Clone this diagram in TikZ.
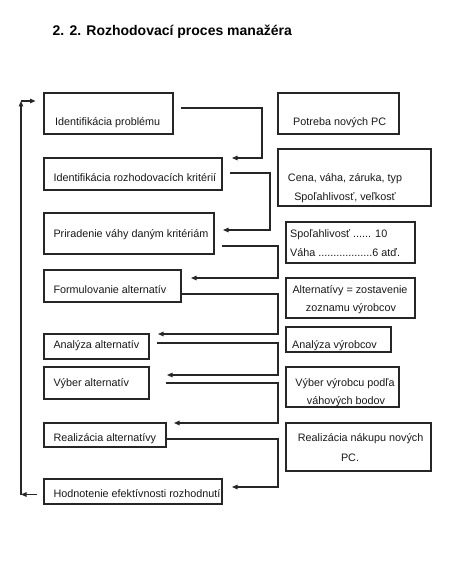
\documentclass[tikz,border=0pt]{standalone}
\usepackage{fontspec}
\setmainfont{Liberation Sans}
\usetikzlibrary{arrows.meta}
\begin{document}
\begin{tikzpicture}[x=1pt,y=-1pt,
  box/.style={draw=black!85,line width=1.1pt,inner sep=0pt,outer sep=0pt,anchor=north west},
  lbl/.style={inner sep=0pt,anchor=base west,font=\fontsize{10.8}{13}\selectfont,text=black!90},
  clbl/.style={inner sep=0pt,anchor=base,font=\fontsize{10.8}{13}\selectfont,text=black!90},
  conn/.style={draw=black!85,line width=1.1pt,-{Triangle[length=5.5pt,width=4.5pt]}},
  ttl/.style={inner sep=0pt,anchor=base west,font=\bfseries\fontsize{14}{16}\selectfont}]
\useasboundingbox (0,0) rectangle (474,564);
\fill[white] (0,0) rectangle (474,564);
% title
\node[ttl] (title) at (52.5,35.5) {2. 2. Rozhodovací proces manažéra};
% left boxes
\node[box,minimum width=129pt,minimum height=41pt] (b1) at (44,93) {};
\node[box,minimum width=178pt,minimum height=32pt] (b2) at (44,158) {};
\node[box,minimum width=170pt,minimum height=41pt] (b3) at (44,213) {};
\node[box,minimum width=137pt,minimum height=32pt] (b4) at (44,270) {};
\node[box,minimum width=105pt,minimum height=25pt] (b5) at (44,334) {};
\node[box,minimum width=105pt,minimum height=32pt] (b6) at (44,367) {};
\node[box,minimum width=122pt,minimum height=24pt] (b7) at (44,423) {};
\node[box,minimum width=178pt,minimum height=25pt] (b8) at (44,479) {};
% right boxes
\node[box,minimum width=121pt,minimum height=41pt] (r1) at (278,93) {};
\node[box,minimum width=153pt,minimum height=57pt] (r2) at (278,149) {};
\node[box,minimum width=129pt,minimum height=41pt] (r3) at (286,222) {};
\node[box,minimum width=129pt,minimum height=40pt] (r4) at (286,278) {};
\node[box,minimum width=105pt,minimum height=25pt] (r5) at (286,327) {};
\node[box,minimum width=113pt,minimum height=40pt] (r6) at (286,367) {};
\node[box,minimum width=145pt,minimum height=48pt] (r7) at (286,423) {};
% left texts
\node[lbl] (t1) at (55,126) {Identifikácia problému};
\node[lbl] (t2) at (53.3,182) {Identifikácia rozhodovacích kritérií};
\node[lbl] (t3) at (53.3,237) {Priradenie váhy daným kritériám};
\node[lbl] (t4) at (53.3,293) {Formulovanie alternatív};
\node[lbl] (t5) at (53.3,348) {Analýza alternatív};
\node[lbl] (t6) at (53.3,386) {Výber alternatív};
\node[lbl] (t7) at (53.3,441) {Realizácia alternatívy};
\node[lbl] (t8) at (53.3,497) {Hodnotenie efektívnosti rozhodnutí};
% right texts
\node[lbl] (s1) at (293,126) {Potreba nových PC};
\node[clbl] (s2a) at (345,182) {Cena, váha, záruka, typ};
\node[clbl] (s2b) at (345,200) {Spoľahlivosť, veľkosť};
\node[lbl] (s3a) at (290,237) {Spoľahlivosť ...... 10};
\node[lbl] (s3b) at (290,256) {Váha ..................6 atď.};
\node[clbl] (s4a) at (350,293) {Alternatívy = zostavenie};
\node[clbl] (s4b) at (351,311) {zoznamu výrobcov};
\node[lbl] (s5) at (292,348) {Analýza výrobcov};
\node[clbl] (s6a) at (345,386) {Výber výrobcu podľa};
\node[clbl] (s6b) at (346,404) {váhových bodov};
\node[lbl] (s7a) at (297.7,441) {Realizácia nákupu nových};
\node[clbl] (s7b) at (350,461) {PC.};
% connector points
\coordinate (c1s) at (181,108); \coordinate (c1e) at (232,158);
\coordinate (c2s) at (230,173); \coordinate (c2e) at (223,230);
\coordinate (c3s) at (222,246); \coordinate (c3e) at (191,278);
\coordinate (c4s) at (181,294); \coordinate (c4e) at (158,334);
\coordinate (c5s) at (157,343); \coordinate (c5e) at (167,375);
\coordinate (c6s) at (166,383); \coordinate (c6e) at (174,423);
\coordinate (c7s) at (166,439); \coordinate (c7e) at (232,487);
\coordinate (fbs) at (37,494.5); \coordinate (fbb) at (21,494.5);
\coordinate (fbt) at (21,101); \coordinate (fbe) at (35.5,101);
% connectors
\draw[conn] (c1s) -- (262,108) -- (262,158) -- (c1e);
\draw[conn] (c2s) -- (270,173) -- (270,230) -- (c2e);
\draw[conn] (c3s) -- (278,246) -- (278,278) -- (c3e);
\draw[conn] (c4s) -- (278,294) -- (278,334) -- (c4e);
\draw[conn] (c5s) -- (278,343) -- (278,375) -- (c5e);
\draw[conn] (c6s) -- (278,383) -- (278,423) -- (c6e);
\draw[conn] (c7s) -- (278,439) -- (278,487) -- (c7e);
% feedback loop
\draw[conn] (fbs) -- (fbb);
\draw[conn] (fbb) -- (fbt);
\draw[conn] (fbt) -- (fbe);
\end{tikzpicture}
\end{document}
